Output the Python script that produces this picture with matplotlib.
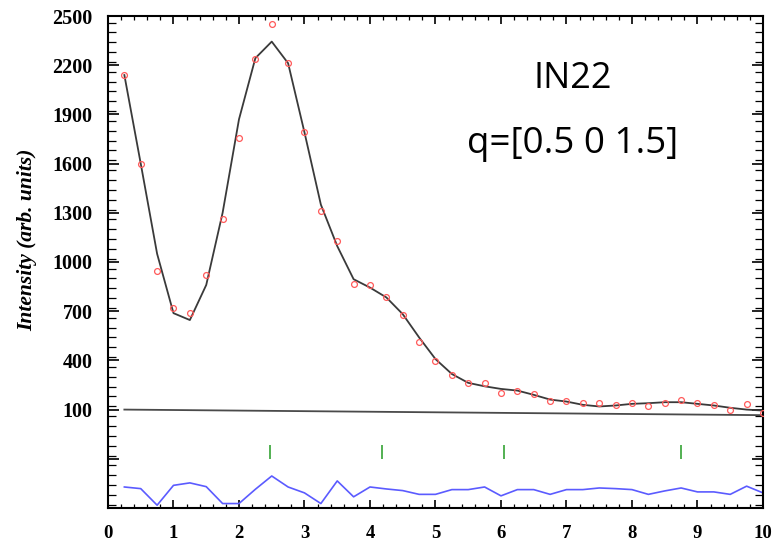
import numpy as np
import matplotlib
matplotlib.use("Agg")
import matplotlib.pyplot as plt
from matplotlib.ticker import MultipleLocator, FixedLocator, FuncFormatter

# measured points (open red circles)
q = np.arange(1, 41) * 0.25
obs = [2140, 1600, 943, 717, 688, 919, 1260, 1758, 2239, 2451,
       2214, 1795, 1308, 1130, 864, 860, 785, 678, 514, 394,
       313, 263, 261, 204, 216, 196, 153, 151, 139, 139,
       131, 138, 119, 143, 161, 140, 126, 98, 134, 80]

# fitted curve (black line)
calc = [2140, 1600, 1050, 688, 646, 860, 1300, 1870, 2243, 2344,
        2212, 1790, 1350, 1097, 895, 844, 784, 682, 540, 408,
        317, 263, 242, 226, 216, 190, 161, 149, 129, 119,
        125, 135, 139, 145, 145, 135, 125, 111, 100, 94]

# background
bg_x = [0.25, 10.0]
bg_y = [100, 66]

# difference curve, drawn around an offset baseline
diff = [28, 18, -83, 38, 53, 30, -73, -73, 14, 95,
        28, -8, -73, 65, -32, 28, 16, 6, -17, -17,
        12, 12, 28, -26, 12, 12, -17, 12, 12, 22,
        18, 12, -17, 4, 22, -2, -2, -17, 33, -8]
diff_offset = -400

# reflection positions (green bars)
peaks = [2.47, 4.19, 6.05, 8.75]

fig = plt.figure(figsize=(7.78, 5.43), dpi=100)
ax = fig.add_axes([0.1388, 0.0645, 0.8419, 0.906])

ax.plot(q, calc, color="#3a3a3a", lw=1.3, zorder=2)
ax.plot(q, obs, "o", mfc="none", mec="#ff5a5a", ms=4.2, mew=0.9, zorder=3)
ax.plot(bg_x, bg_y, color="#4a4a4a", lw=1.3, zorder=2)
ax.plot(q, np.array(diff) + diff_offset, color="#5b5bff", lw=1.2, zorder=2)
ax.vlines(peaks, -200, -115, color="#44aa44", lw=1.3)

ax.set_xlim(0, 10)
ax.set_ylim(-500, 2500)

ax.xaxis.set_major_locator(MultipleLocator(1))
ax.xaxis.set_minor_locator(MultipleLocator(0.2))
ax.yaxis.set_major_locator(FixedLocator(np.arange(-500, 2501, 300)))
ax.yaxis.set_minor_locator(MultipleLocator(60))
ax.yaxis.set_major_formatter(FuncFormatter(lambda v, p: "%d" % v if v >= 100 else ""))

ax.tick_params(which="both", direction="in", top=True, right=True, colors="black")
ax.tick_params(axis="x", which="major", length=5.5, width=1.2, pad=12)
ax.tick_params(axis="x", which="minor", length=3, width=0.9)
ax.tick_params(axis="y", which="major", length=8, width=1.2, pad=11)
ax.tick_params(axis="y", which="minor", length=5.5, width=0.9)
for s in ax.spines.values():
    s.set_linewidth(1.5)

for lab in ax.get_yticklabels():
    lab.set_family("Liberation Serif")
    lab.set_fontweight("bold")
    lab.set_fontsize(14.5)
for lab in ax.get_xticklabels():
    lab.set_family("Liberation Serif")
    lab.set_fontweight("bold")
    lab.set_fontsize(13.5)

ax.set_ylabel("Intensity (arb. units)", family="Liberation Serif", style="italic",
              fontweight="bold", fontsize=15.5)
ax.yaxis.set_label_coords(-0.108, 0.545)

ax.text(0.71, 0.854, "IN22", transform=ax.transAxes, ha="center", va="baseline",
        family="Open Sans", fontsize=26)
ax.text(0.71, 0.722, "q=[0.5 0 1.5]", transform=ax.transAxes, ha="center", va="baseline",
        family="Open Sans", fontsize=26.5)

fig.savefig("out.png", dpi=100)
